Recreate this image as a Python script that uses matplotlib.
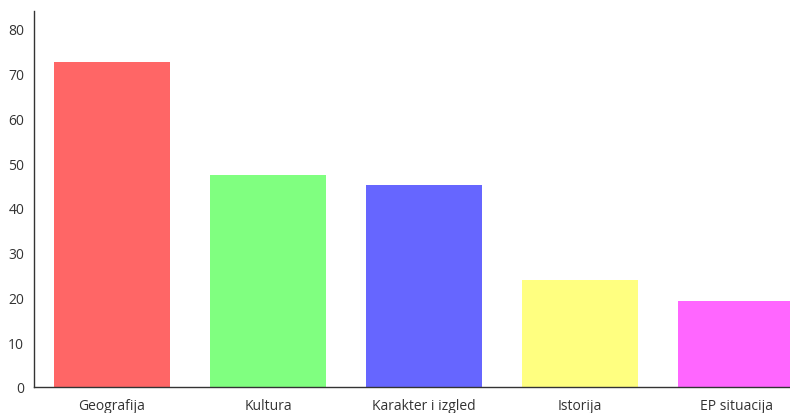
import matplotlib
matplotlib.use('Agg')
import matplotlib.pyplot as plt

plt.rcParams['font.family'] = ['Open Sans', 'DejaVu Sans']

categories = ['Geografija', 'Kultura', 'Karakter i izgled', 'Istorija', 'EP situacija']
values = [72.6, 47.4, 45.1, 23.9, 19.2]
colors = ['#ff6666', '#80ff80', '#6666ff', '#ffff80', '#ff66ff']
yticks = [0, 10, 20, 30, 40, 50, 60, 70, 80]

W, H = 790, 414
fig = plt.figure(figsize=(W / 100, H / 100), dpi=100)
# axes runs past the right edge of the figure, like the original
ax = fig.add_axes([34 / W, (H - 388) / H, 780 / W, (388 - 12) / H])

x = range(len(categories))
ax.bar(x, values, width=116 / 156, color=colors)

ax.set_xlim(-0.5, len(categories) - 0.5)
ax.set_ylim(0, 84)
ax.set_yticks(yticks)
ax.set_xticks(list(x))
ax.set_xticklabels(categories)

ax.tick_params(axis='both', length=0, labelsize=10, colors='#333333')
ax.tick_params(axis='y', pad=7)
ax.tick_params(axis='x', pad=8)
for s in ['top', 'right']:
    ax.spines[s].set_visible(False)
for s in ['left', 'bottom']:
    ax.spines[s].set_color('#333333')
    ax.spines[s].set_linewidth(1.0)

fig.savefig('out.png', dpi=100)
